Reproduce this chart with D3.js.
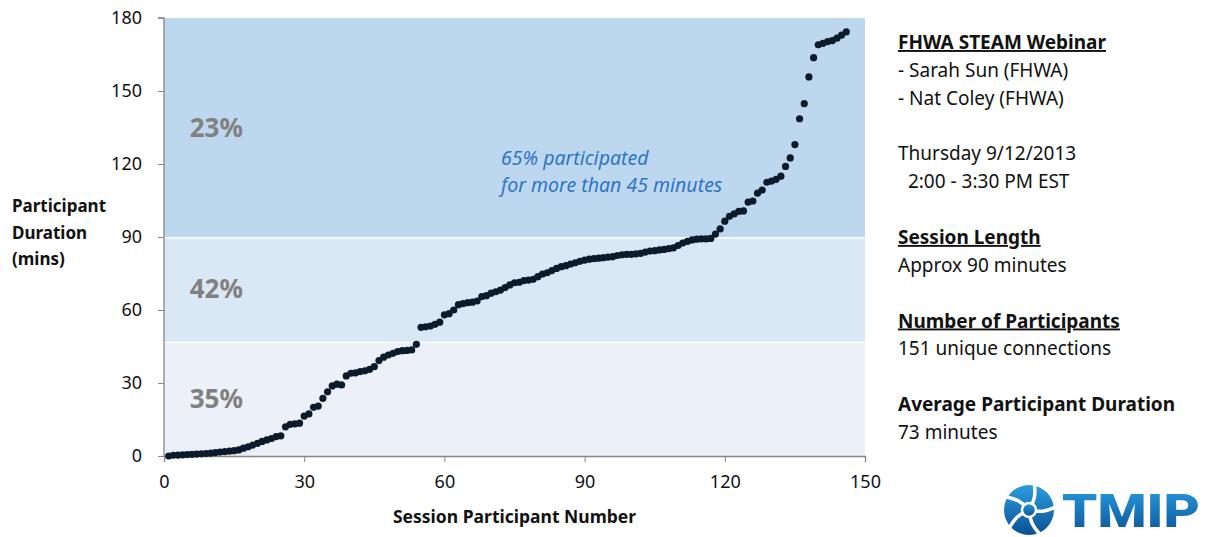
<!DOCTYPE html>
<html>
<head>
<meta charset="utf-8">
<script src="https://cdn.jsdelivr.net/npm/d3@7"></script>
<style>
  body { margin: 0; background: #fff; }
  svg { display: block; font-family: "Noto Sans", "Open Sans", sans-serif; }
</style>
</head>
<body>
<div id="chart"></div>
<script>
// participant durations (mins), sorted, one per session participant
const durations = [
  0, 0.3, 0.4, 0.5, 0.6, 0.7, 0.8, 0.9, 1.0, 1.2,
  1.4, 1.6, 1.8, 2.0, 2.2, 2.5, 3.2, 3.8, 4.5, 5.2,
  6.0, 6.6, 7.2, 8.0, 8.3, 12, 13, 13.2, 13.5, 16.4,
  17.3, 20, 20.5, 23.7, 26.4, 28.8, 29.5, 29.2, 32.9, 34,
  34.2, 34.7, 35, 35.6, 36.7, 39.2, 40.6, 41.5, 42.2, 42.9,
  43.3, 43.4, 43.6, 45.9, 52.9, 53.1, 53.4, 54.1, 55, 58,
  58.5, 60, 62.2, 62.6, 63, 63.2, 63.7, 65.5, 65.9, 66.9,
  67.5, 68.2, 69.2, 70.3, 71.2, 71.4, 72.1, 72.3, 72.6, 73.7,
  74.8, 75.3, 76.2, 77.1, 77.8, 78.2, 78.9, 79.4, 80, 80.5,
  80.9, 81.1, 81.3, 81.5, 81.7, 81.9, 82.4, 82.7, 82.9, 82.9,
  83.1, 83.3, 83.8, 84.2, 84.4, 84.7, 84.9, 85.2, 85.5, 86.5,
  87.5, 88.2, 88.8, 89.1, 89.2, 89.2, 89.4, 91.2, 93.3, 96.5,
  98.5, 99.5, 100.5, 100.7, 104.3, 104.8, 108, 109.3, 112.5, 113,
  113.7, 115, 119, 122.5, 128, 138.6, 144.8, 155.8, 163.7, 169,
  169.6, 170.3, 170.7, 171.7, 173, 174.3
];

// background bands (mins) and their share labels
const bandEdges = [0, 47, 90, 180];
const bandLabels = ["35%", "42%", "23%"];
const bandColors = ["#ebf0f9", "#dae8f5", "#bdd7ee"];

const xTicks = [0, 30, 60, 90, 120, 150];
const yTicks = [0, 30, 60, 90, 120, 150, 180];

const noteLines = ["65% participated", "for more than 45 minutes"];
const yTitleLines = ["Participant", "Duration", "(mins)"];
const xTitle = "Session Participant Number";

// right-hand info panel: [text, heading style]
const infoLines = [
  ["FHWA STEAM Webinar", true], ["- Sarah Sun (FHWA)", false], ["- Nat Coley (FHWA)", false],
  ["", false],
  ["Thursday 9/12/2013", false], ["  2:00 - 3:30 PM EST", false],
  ["", false],
  ["Session Length", true], ["Approx 90 minutes", false],
  ["", false],
  ["Number of Participants", true], ["151 unique connections", false],
  ["", false],
  ["Average Participant Duration", "bold"], ["73 minutes", false]
];

const width = 1208, height = 537;
const margin = { top: 18, left: 164, right: 343, bottom: 81 };

const svg = d3.select("#chart").append("svg")
  .attr("width", width)
  .attr("height", height);

const x = d3.scaleLinear().domain([0, 150]).range([margin.left, width - margin.right]);
const y = d3.scaleLinear().domain([0, 180]).range([height - margin.bottom, margin.top]);

// bands
const bands = d3.range(bandLabels.length).map(i => ({
  lo: bandEdges[i], hi: bandEdges[i + 1], label: bandLabels[i], color: bandColors[i]
}));

svg.append("g").selectAll("rect")
  .data(bands)
  .join("rect")
  .attr("x", x(0))
  .attr("width", x(150) - x(0))
  .attr("y", d => y(d.hi) + (d.hi < 180 ? 1.5 : 0))
  .attr("height", d => y(d.lo) - y(d.hi) - (d.hi < 180 ? 1.5 : 0))
  .attr("fill", d => d.color);

svg.append("g").selectAll("text")
  .data(bands)
  .join("text")
  .attr("x", x(5.5))
  .attr("y", d => y((d.lo + d.hi) / 2) + 9)
  .attr("fill", "#808080")
  .attr("font-weight", "bold")
  .attr("font-size", 26)
  .text(d => d.label);

// annotation
svg.append("text")
  .attr("fill", "#2e75c6")
  .attr("font-style", "italic")
  .attr("font-size", 19.5)
  .selectAll("tspan")
  .data(noteLines)
  .join("tspan")
  .attr("x", 501)
  .attr("y", (d, i) => 165 + i * 27)
  .text(d => d);

// axes
const yAxis = svg.append("g")
  .attr("transform", `translate(${x(0)},0)`)
  .call(d3.axisLeft(y).tickValues(yTicks).tickSize(6).tickPadding(16));
const xAxis = svg.append("g")
  .attr("transform", `translate(0,${y(0)})`)
  .call(d3.axisBottom(x).tickValues(xTicks).tickSize(6).tickPadding(13));

[xAxis, yAxis].forEach(a => {
  a.select(".domain").attr("stroke", "#868686").attr("stroke-width", 1.3);
  a.selectAll(".tick line").attr("stroke", "#868686");
  a.selectAll(".tick text").attr("fill", "#111").attr("font-size", 18)
    .attr("font-family", "'Noto Sans', sans-serif");
});
yAxis.select(".domain").attr("d", `M-6,${y(180)}H0V${y(0)}`);

// points
svg.append("g").selectAll("circle")
  .data(durations)
  .join("circle")
  .attr("cx", (d, i) => x(i + 1))
  .attr("cy", d => y(d))
  .attr("r", 3.6)
  .attr("fill", "#0c1b2b");

// axis titles
svg.append("text")
  .attr("font-weight", "bold")
  .attr("font-size", 17)
  .attr("fill", "#111")
  .selectAll("tspan")
  .data(yTitleLines)
  .join("tspan")
  .attr("x", 12)
  .attr("y", (d, i) => 212 + i * 26.5)
  .text(d => d);

svg.append("text")
  .attr("x", (x(0) + x(150)) / 2)
  .attr("y", 523)
  .attr("text-anchor", "middle")
  .attr("font-weight", "bold")
  .attr("font-size", 17.5)
  .attr("fill", "#111")
  .text(xTitle);

// info panel
const info = svg.append("g").attr("transform", "translate(898,0)");
info.selectAll("text")
  .data(infoLines)
  .join("text")
  .attr("x", 0)
  .attr("y", (d, i) => 49 + i * 27.85)
  .attr("font-size", 19)
  .attr("font-weight", d => d[1] ? "bold" : "normal")
  .attr("text-decoration", d => d[1] === true ? "underline" : null)
  .attr("fill", "#111")
  .attr("xml:space", "preserve")
  .style("white-space", "pre")
  .text(d => d[0]);

// TMIP logo
const defs = svg.append("defs");
const grad = defs.append("linearGradient").attr("id", "tmipGrad")
  .attr("x1", 0).attr("y1", 0).attr("x2", 0).attr("y2", 1);
grad.append("stop").attr("offset", "0%").attr("stop-color", "#2a9ee0");
grad.append("stop").attr("offset", "100%").attr("stop-color", "#0b4f93");

const logo = svg.append("g").attr("transform", "translate(1029,510)");
logo.append("circle").attr("r", 25).attr("fill", "url(#tmipGrad)");
d3.range(5).forEach(k => {
  const a = (k * 72 - 90) * Math.PI / 180;
  logo.append("path")
    .attr("d", d3.line().curve(d3.curveBasis)([
      [0, 0],
      [Math.cos(a + 0.5) * 14, Math.sin(a + 0.5) * 14],
      [Math.cos(a + 0.2) * 27, Math.sin(a + 0.2) * 27]
    ]))
    .attr("fill", "none")
    .attr("stroke", "#fff")
    .attr("stroke-width", 3.5);
});
logo.append("circle").attr("r", 7).attr("fill", "url(#tmipGrad)").attr("stroke", "#fff").attr("stroke-width", 2.5);

svg.append("text")
  .attr("x", 1062)
  .attr("y", 527)
  .attr("font-family", "Roboto, 'DejaVu Sans', sans-serif")
  .attr("font-weight", 900)
  .attr("font-size", 46)
  .attr("textLength", 138)
  .attr("lengthAdjust", "spacingAndGlyphs")
  .attr("fill", "url(#tmipGrad)")
  .text("TMIP");
</script>
</body>
</html>
